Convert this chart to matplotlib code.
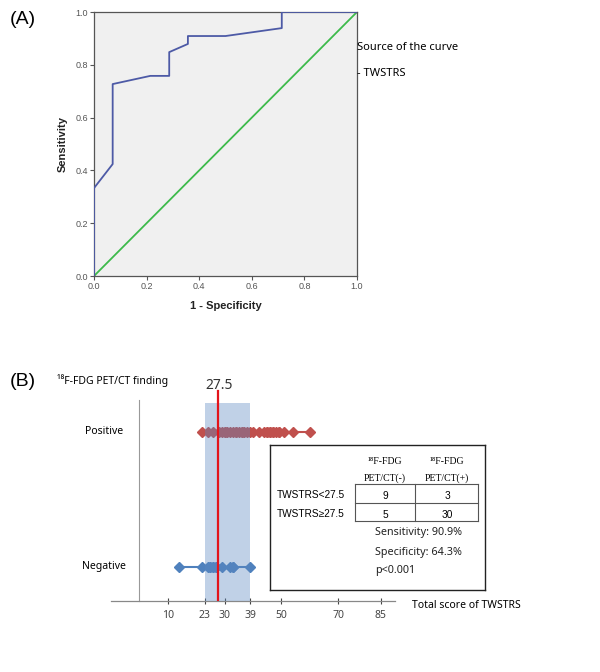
import matplotlib
matplotlib.use("Agg")
import matplotlib.pyplot as plt
from matplotlib.patches import Rectangle

# ROC curve (panel A)
fpr = [0.0, 0.0, 0.071, 0.071, 0.214, 0.286, 0.286, 0.357, 0.357, 0.5, 0.714, 0.714, 1.0]
tpr = [0.0, 0.333, 0.424, 0.727, 0.758, 0.758, 0.848, 0.879, 0.909, 0.909, 0.939, 1.0, 1.0]
ref_line = [0.0, 1.0]
roc_ticks = [0.0, 0.2, 0.4, 0.6, 0.8, 1.0]

# TWSTRS scores by PET/CT finding (panel B)
positive_scores = [22, 24, 26, 28, 29, 30, 30, 31, 32, 33, 34, 34, 35, 36, 36, 37, 38, 39,
                   40, 42, 44, 45, 45, 46, 46, 47, 47, 48, 49, 49, 51, 54, 60]
negative_scores = [14, 22, 24, 25, 25, 26, 26, 27, 27, 29, 32, 33, 33, 39]
cutoff = 27.5
band_low, band_high = 23, 39
score_ticks = [10, 23, 30, 39, 50, 70, 85]

# 2x2 table
col_labels = ["PET/CT(-)", "PET/CT(+)"]
row_labels = ["TWSTRS<27.5", "TWSTRS≥27.5"]
counts = [[9, 3], [5, 30]]
stats_lines = ["Sensitivity: 90.9%", "Specificity: 64.3%", "p<0.001"]

W, H = 600, 672
fig = plt.figure(figsize=(W / 100, H / 100), dpi=100)


def px_axes(x0, y0, x1, y1):
    return fig.add_axes([x0 / W, 1 - y1 / H, (x1 - x0) / W, (y1 - y0) / H])


sans = ["Liberation Sans", "DejaVu Sans"]
noto = ["Noto Sans", "DejaVu Sans"]

# ---------------- Panel A ----------------
axA = px_axes(94, 12, 357, 276)
axA.set_facecolor("#f0f0f0")
axA.plot(fpr, tpr, color="#4d5aa6", lw=1.3, zorder=3)
axA.plot(ref_line, ref_line, color="#3dba4b", lw=1.3, zorder=2)
axA.set_xlim(0, 1)
axA.set_ylim(0, 1)
axA.set_xticks(roc_ticks)
axA.set_yticks(roc_ticks)
axA.set_xticklabels([f"{t:.1f}" for t in roc_ticks], family=sans)
axA.set_yticklabels([f"{t:.1f}" for t in roc_ticks], family=sans)
axA.tick_params(labelsize=6.5, colors="#555555", length=3, width=0.8, pad=1.5)
for s in axA.spines.values():
    s.set_color("#555555")
    s.set_linewidth(0.9)
axA.set_xlabel("1 - Specificity", fontsize=8, fontweight="bold", family=sans,
               color="#222222", labelpad=7)
axA.set_ylabel("Sensitivity", fontsize=8, fontweight="bold", family=sans,
               color="#222222", labelpad=5)

fig.text(10 / W, 1 - 20 / H, "(A)", fontsize=14, family=sans, va="center")
fig.text(357 / W, 1 - 47 / H, "Source of the curve", fontsize=8, family=noto, va="center")
fig.text(357 / W, 1 - 73 / H, "- TWSTRS", fontsize=8, family=noto, va="center")

# ---------------- Panel B ----------------
axB = px_axes(111, 380, 395, 601)
y0, y1 = -0.252, 1.385
axB.set_xlim(-10, 90)
axB.set_ylim(y0, y1)
axB.patch.set_alpha(0)
for side in ["top", "right"]:
    axB.spines[side].set_visible(False)
axB.spines["left"].set_position(("data", 0))
axB.spines["left"].set_bounds(y0, 1.237)
axB.spines["left"].set_color("#999999")
axB.spines["left"].set_linewidth(0.8)
axB.spines["bottom"].set_color("#888888")
axB.spines["bottom"].set_linewidth(0.9)
axB.set_yticks([])
axB.set_xticks(score_ticks)
axB.set_xticklabels([str(t) for t in score_ticks], family=noto)
axB.tick_params(axis="x", labelsize=7.5, colors="#444444", direction="inout",
                length=5, width=0.8, pad=4)

axB.plot(sorted(positive_scores), [1] * len(positive_scores), marker="D", ms=4.8,
         color="#c0504d", lw=1.5, zorder=2)
axB.plot(sorted(negative_scores), [0] * len(negative_scores), marker="D", ms=4.8,
         color="#4f81bd", lw=1.5, zorder=2)
axB.add_patch(Rectangle((band_low, y0), band_high - band_low, 1.215 - y0,
                        facecolor="#5a88c0", alpha=0.38, lw=0, zorder=3))
axB.plot([cutoff, cutoff], [y0, 1.30], color="#e3141b", lw=1.6, zorder=4)
axB.text(cutoff + 0.5, 1.345, f"{cutoff}", fontsize=10, family=noto,
         ha="center", va="center", color="#333333")

axB.text(-12.6, 1, "Positive", fontsize=7.5, family=noto, ha="center", va="center")
axB.text(-12.6, 0, "Negative", fontsize=7.5, family=noto, ha="center", va="center")

fig.text(10 / W, 1 - 382 / H, "(B)", fontsize=14, family=sans, va="center")
fig.text(57 / W, 1 - 381 / H, "¹⁸F-FDG PET/CT finding", fontsize=7.5, family=noto,
         va="center")
fig.text(412 / W, 1 - 606 / H, "Total score of TWSTRS", fontsize=7.5, family=noto,
         va="center")

# ---------------- Table box ----------------
axT = px_axes(270, 445, 485, 590)
axT.set_xlim(270, 485)
axT.set_ylim(590, 445)
axT.set_xticks([])
axT.set_yticks([])
axT.patch.set_alpha(0)
for s in axT.spines.values():
    s.set_color("#222222")
    s.set_linewidth(1.0)

col_x = [355, 415, 478]
row_y = [484, 503, 521]
for x in col_x:
    axT.plot([x, x], [row_y[0], row_y[-1]], color="#555555", lw=0.8)
for y in row_y:
    axT.plot([col_x[0], col_x[-1]], [y, y], color="#555555", lw=0.8)

col_c = [385, 447]
row_c = [496, 515]
serif = ["Liberation Serif", "DejaVu Serif"]
for j, lab in enumerate(col_labels):
    axT.text(col_c[j], 461, "¹⁸F-FDG", fontsize=7, family=serif, ha="center", va="center")
    axT.text(col_c[j], 478, lab, fontsize=7, family=serif, ha="center", va="center")
for i, lab in enumerate(row_labels):
    axT.text(311, row_c[i] - 1, lab, fontsize=7.3, family=sans, ha="center", va="center")
    for j in range(2):
        axT.text(col_c[j], row_c[i], str(counts[i][j]), fontsize=7.3, family=sans,
                 ha="center", va="center")
for k, line in enumerate(stats_lines):
    axT.text(375, 533 + 19 * k, line, fontsize=7.8, family=noto, ha="left", va="center",
             color="#222222")

fig.savefig("out.png", dpi=100)
